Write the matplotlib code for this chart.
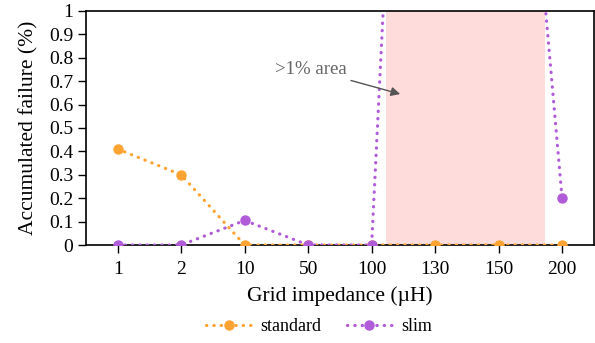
import numpy as np
import matplotlib.pyplot as plt

plt.rcParams['font.family'] = ['Liberation Serif', 'DejaVu Serif']

categories = ["1", "2", "10", "50", "100", "130", "150", "200"]
standard = [0.41, 0.30, 0.0, 0.0, 0.0, 0.0, 0.0, 0.0]
slim = [0.0, 0.0, 0.105, 0.0, 0.0, 5.5, 3.3, 0.2]
area_span = (4.23, 6.73)
yticks = [0, 0.1, 0.2, 0.3, 0.4, 0.5, 0.6, 0.7, 0.8, 0.9, 1]

x = np.arange(len(categories))

fig = plt.figure(figsize=(5.95, 3.43), dpi=100)
ax = fig.add_axes([0.1445, 0.2857, 0.8535, 0.6823])

ax.axvspan(*area_span, color="#ffdcdc", zorder=0, lw=0)
dots = (0, (0.1, 2.2))
for vals, col, lab in [(standard, "#ffa333", "standard"), (slim, "#b05cd8", "slim")]:
    ax.plot(x, vals, ls=dots, lw=2.3, dash_capstyle="round", marker="o", ms=6.5,
            color=col, label=lab, zorder=3)

ax.annotate(">1% area", xy=(4.45, 0.645), xytext=(2.48, 0.75),
            fontsize=13.5, color="#666666", va="center", ha="left",
            arrowprops=dict(arrowstyle="-|>", color="#555555", lw=1,
                            shrinkA=1, shrinkB=0))

ax.set_xlim(-0.5, 7.5)
ax.set_ylim(0, 1)
ax.set_xticks(x)
ax.set_xticklabels(categories)
ax.set_yticks(yticks)
ax.set_yticklabels([f"{v:g}" for v in yticks])
ax.tick_params(labelsize=14, direction="out", length=5.5, width=1)
ax.tick_params(axis="x", pad=6)
ax.set_xlabel("Grid impedance (µH)", fontsize=15.5, labelpad=6)
ax.set_ylabel("Accumulated failure (%)", fontsize=15.5, labelpad=8)
for s in ax.spines.values():
    s.set_linewidth(1.2)

fig.legend(loc="center", bbox_to_anchor=(0.536, 0.047), ncol=2, frameon=False,
           fontsize=13, handlelength=2.5, handletextpad=0.5, columnspacing=1.4)

fig.savefig("out.png", dpi=100)
